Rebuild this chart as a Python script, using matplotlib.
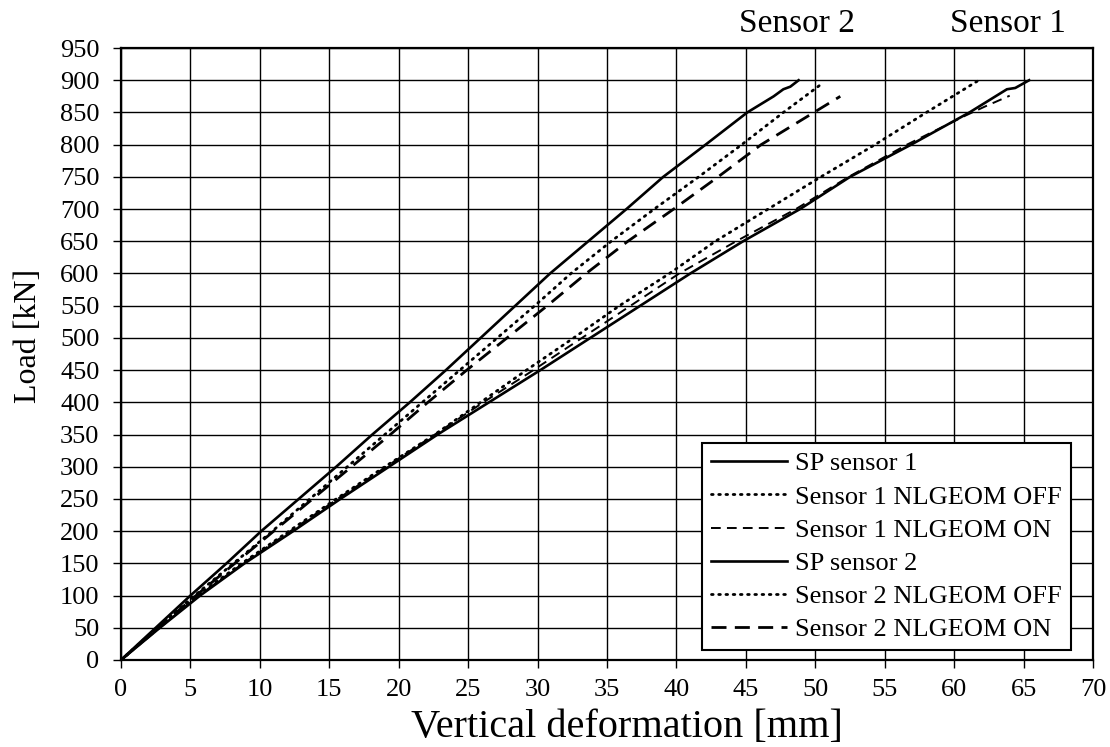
import matplotlib
matplotlib.use("Agg")
import matplotlib.pyplot as plt

plt.rcParams['font.family'] = ['Liberation Serif', 'DejaVu Serif']

# Load-deformation curves (deformation in mm, load in kN)
sp1_x = [0, 2.8, 5.7, 8.9, 12.4, 15.8, 19.3, 22.8, 26.5, 30.2, 33.8, 37.4, 41.0, 44.8,
         48.9, 52.5, 56.9, 61.1, 63.8, 64.4, 65.4]
sp1_y = [0, 50, 100, 150, 200, 250, 300, 350, 400, 450, 500, 550, 600, 650,
         700, 750, 800, 850, 886, 888, 900]

off1_x = [0, 2.7, 5.5, 8.7, 12.1, 15.5, 19.0, 22.6, 25.9, 29.2, 32.6, 35.9, 39.5, 42.8,
          46.6, 50.4, 54.3, 58.0, 61.7]
off1_y = [0, 50, 100, 150, 200, 250, 300, 350, 400, 450, 500, 550, 600, 650,
          700, 750, 800, 850, 899]

on1_x = [0, 2.8, 5.6, 8.8, 12.2, 15.6, 19.1, 22.6, 26.1, 29.7, 33.2, 36.7, 40.2, 44.3,
         48.6, 52.4, 56.6, 60.8, 62.2, 64.0]
on1_y = [0, 50, 100, 150, 200, 250, 300, 350, 400, 450, 500, 550, 600, 650,
         700, 750, 800, 845, 859, 876]

sp2_x = [0, 2.5, 5.0, 7.6, 10.1, 12.8, 15.5, 18.1, 20.8, 23.4, 25.9, 28.4, 30.9, 33.65,
         36.4, 39.05, 42.1, 43.9, 45.1, 47.0, 47.7, 48.2, 48.8]
sp2_y = [0, 50, 100, 150, 200, 250, 300, 350, 400, 450, 500, 550, 600, 650,
         700, 750, 800, 830, 850, 875, 886, 890, 900]

off2_x = [0, 2.6, 5.3, 8.1, 10.9, 13.6, 16.3, 19.0, 21.7, 24.4, 27.1, 29.8, 32.4, 35.3,
          38.4, 41.6, 44.7, 47.7, 50.5]
off2_y = [0, 50, 100, 150, 200, 250, 300, 350, 400, 450, 500, 550, 600, 650,
          700, 750, 800, 850, 895]

on2_x = [0, 2.7, 5.4, 8.2, 11.0, 13.8, 16.6, 19.4, 22.1, 24.9, 27.8, 30.7, 33.5, 36.5,
         39.8, 43.0, 46.1, 49.9, 51.8]
on2_y = [0, 50, 100, 150, 200, 250, 300, 350, 400, 450, 500, 550, 600, 650,
         700, 750, 800, 850, 875]

labels = ["SP sensor 1", "Sensor 1 NLGEOM OFF", "Sensor 1 NLGEOM ON",
          "SP sensor 2", "Sensor 2 NLGEOM OFF", "Sensor 2 NLGEOM ON"]

x_ticks = list(range(0, 71, 5))
y_ticks = list(range(0, 951, 50))

fig = plt.figure(figsize=(11.10, 7.47), dpi=100)
ax = fig.add_axes([0.109, 0.1165, 0.8757, 0.8192])

ax.plot(sp1_x, sp1_y, color='black', lw=1.9, solid_joinstyle='round', label=labels[0])
ax.plot(off1_x, off1_y, color='black', lw=2.0, linestyle=(0, (0.6, 2.0)),
        dash_capstyle='round', label=labels[1])
ax.plot(on1_x, on1_y, color='black', lw=1.4, linestyle=(0, (5.0, 3.2)), label=labels[2])
ax.plot(sp2_x, sp2_y, color='black', lw=1.9, solid_joinstyle='round', label=labels[3])
ax.plot(off2_x, off2_y, color='black', lw=2.0, linestyle=(0, (0.6, 2.0)),
        dash_capstyle='round', label=labels[4])
ax.plot(on2_x, on2_y, color='black', lw=2.0, linestyle=(0, (5.4, 3.0)), label=labels[5])

ax.set_xlim(0, 70)
ax.set_ylim(0, 950)
ax.set_xticks(x_ticks)
ax.set_yticks(y_ticks)
ax.tick_params(axis='both', direction='out', length=5.5, width=1.0, labelsize=19,
               colors='black')
ax.tick_params(axis='y', pad=10)
ax.tick_params(axis='x', pad=8)
ax.grid(True, color='black', lw=1.0)
ax.set_axisbelow(True)
for s in ax.spines.values():
    s.set_linewidth(1.6)
    s.set_color('black')

ax.set_xlabel("Vertical deformation [mm]", fontsize=29, va='center')
ax.xaxis.set_label_coords(0.52, -0.11)
ax.set_ylabel("Load [kN]", fontsize=23)
ax.yaxis.set_label_coords(-0.08, 0.53)

ax.text(48.7, 987, "Sensor 2", fontsize=24, ha='center', va='center', clip_on=False)
ax.text(63.9, 987, "Sensor 1", fontsize=24, ha='center', va='center', clip_on=False)

leg = ax.legend(loc='lower right', bbox_to_anchor=(0.977, 0.016), borderaxespad=0,
                fontsize=19, handlelength=2.9, handletextpad=0.3, labelspacing=0.37,
                fancybox=False, framealpha=1, edgecolor='black', borderpad=0.33)
leg.get_frame().set_linewidth(1.5)

fig.savefig("out.png", dpi=100)
